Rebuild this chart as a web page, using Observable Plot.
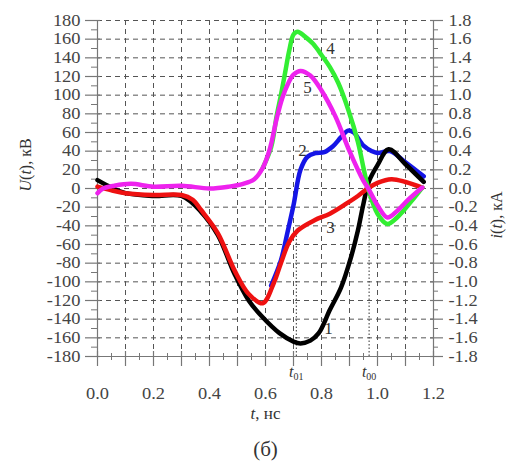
<!DOCTYPE html>
<html><head><meta charset="utf-8">
<script src="https://cdn.jsdelivr.net/npm/d3@7"></script>
<script src="https://cdn.jsdelivr.net/npm/@observablehq/plot@0.6"></script>
<style>body{margin:0;background:#fff}</style>
</head><body>
<script>
// Curve 1 (black)
const t1 = [0, 0.05, 0.1, 0.2, 0.3, 0.37, 0.43, 0.49, 0.54, 0.59, 0.65, 0.7, 0.725, 0.76, 0.79, 0.83, 0.87, 0.905, 0.93, 0.95, 0.97, 1.0, 1.04, 1.1, 1.165];
const u1 = [9, 1, -5, -8, -8, -25, -50, -92, -120, -138, -155, -164, -166, -163, -155, -130, -106, -74, -45, -16, 8, 25, 42, 26, 7];
// Curve 2 (blue)
const t2 = [0.62, 0.655, 0.68, 0.70, 0.725, 0.75, 0.78, 0.81, 0.84, 0.87, 0.895, 0.915, 0.95, 0.98, 1.0, 1.045, 1.1, 1.165];
const u2 = [-104, -77, -45, -18, 20, 34, 38, 39, 45, 55, 62, 60, 46, 40, 38, 40, 28, 13];
// Curve 3 (red)
const t3 = [0, 0.05, 0.1, 0.2, 0.3, 0.34, 0.37, 0.43, 0.49, 0.54, 0.59, 0.63, 0.655, 0.685, 0.715, 0.775, 0.83, 0.89, 0.93, 0.965, 1.0, 1.05, 1.1, 1.16];
const u3 = [2, -2, -5, -7, -7, -12, -23, -48, -88, -113, -123, -101, -80, -57, -45, -34, -27, -16, -8, 0, 6, 10, 7, 1];
// Curve 4 (green)
const t4 = [0.59, 0.62, 0.64, 0.655, 0.67, 0.685, 0.70, 0.715, 0.74, 0.77, 0.8, 0.83, 0.86, 0.895, 0.93, 0.95, 0.967, 1.0, 1.035, 1.07, 1.12, 1.16];
const u4 = [22, 44, 78, 100, 124, 148, 165, 168, 163, 155, 143, 130, 113, 85, 50, 22, 0, -27, -38, -31, -14, 1];
// Curve 5 (magenta)
const t5 = [0, 0.02, 0.06, 0.12, 0.2, 0.3, 0.4, 0.47, 0.52, 0.56, 0.59, 0.615, 0.64, 0.66, 0.68, 0.70, 0.725, 0.76, 0.8, 0.85, 0.9, 0.95, 0.967, 1.0, 1.035, 1.07, 1.11, 1.16];
const u5 = [-5, 0, 3, 5, 2, 3, 0, 2, 5, 10, 22, 42, 75, 97, 112, 122, 126, 121, 105, 77, 40, 8, 0, -18, -31, -24, -12, 1];

// curve number labels
const curveLabels = ["1", "2", "3", "4", "5"];
const curveLabelT = [0.825, 0.732, 0.832, 0.832, 0.75];
const curveLabelU = [-150, 41, -42, 150, 108];

// characteristic times
const markNames = ["t01", "t00"];
const markT = [0.71, 0.97];
const markTop = [-45, 0];

// ticks
const xMajor = d3.range(0, 13).map(d => d / 10);
const xMinor = d3.range(0, 12).map(i => (2 * i + 1) / 20);
const xLabels = [0, 0.2, 0.4, 0.6, 0.8, 1.0, 1.2];
const yMajor = d3.range(-180, 181, 20);
const yMinor = d3.range(-170, 180, 20);
const xGridVals = d3.range(1, 12).map(d => d / 10);
const yGridVals = d3.range(-160, 181, 20);

const mk = (t, u) => t.map((x, i) => ({t: x, u: u[i]}));
const series = [
  {data: mk(t2, u2), color: "#1515e6"},
  {data: mk(t1, u1), color: "#000000"},
  {data: mk(t3, u3), color: "#ee1111"},
  {data: mk(t4, u4), color: "#33ee33"},
  {data: mk(t5, u5), color: "#ee22ee"}
];
const labelRows = curveLabels.map((s, i) => ({s, t: curveLabelT[i], u: curveLabelU[i]}));
const markRows = markNames.map((s, i) => ({s, t: markT[i], top: markTop[i]}));

const axisColor = "#777";
const gridColor = "#555";
const serif = "Liberation Serif";

const plot = Plot.plot({
  width: 512, height: 472,
  marginLeft: 97, marginRight: 79, marginTop: 20, marginBottom: 116,
  style: "font-family: 'Liberation Serif', serif; font-size: 16px; background: #fff; color: #333;",
  x: {domain: [0, 1.2], label: null},
  y: {domain: [-180, 180], label: null},
  marks: [
    Plot.gridX(xGridVals, {stroke: gridColor, strokeOpacity: 1, strokeDasharray: "5,4"}),
    Plot.gridY(yGridVals, {stroke: gridColor, strokeOpacity: 1, strokeDasharray: "5,4"}),
    Plot.ruleX([0, 1.2], {stroke: axisColor, strokeWidth: 1.2}),
    Plot.ruleY([-180], {stroke: axisColor, strokeWidth: 1.2}),
    Plot.tickX(xMajor, {x: d => d, insetTop: 331, insetBottom: -10, stroke: axisColor, strokeWidth: 1.2}),
    Plot.tickX(xMinor, {x: d => d, insetTop: 333, insetBottom: -4, stroke: axisColor}),
    Plot.tickY(yMajor, {y: d => d, insetLeft: -12, insetRight: 333, stroke: axisColor, strokeWidth: 1.2}),
    Plot.tickY(yMinor, {y: d => d, insetLeft: -6, insetRight: 336, stroke: axisColor}),
    Plot.tickY(yMajor, {y: d => d, insetLeft: 333, insetRight: -10, stroke: axisColor, strokeWidth: 1.2}),
    Plot.tickY(yMinor, {y: d => d, insetLeft: 336, insetRight: -5, stroke: axisColor}),
    Plot.axisX({ticks: xLabels, tickSize: 0, tickPadding: 31, tickFormat: d => d.toFixed(1), fill: "#444", fontFamily: serif, fontSize: 16}),
    Plot.axisY({ticks: yMajor, tickSize: 0, tickPadding: 17, tickFormat: d => String(d), fill: "#444", fontFamily: serif, fontSize: 16}),
    Plot.axisY({anchor: "right", ticks: yMajor, tickSize: 0, tickPadding: 15, tickFormat: d => (d / 100).toFixed(1), fill: "#444", fontFamily: serif, fontSize: 16}),
    Plot.ruleX(markRows, {x: "t", y1: -180, y2: "top", stroke: "#333", strokeDasharray: "1.5,2", strokeWidth: 1}),
    ...series.map(s => Plot.line(s.data, {x: "t", y: "u", stroke: s.color, strokeWidth: 4.5, curve: "catmull-rom"})),
    Plot.text(labelRows, {x: "t", y: "u", text: "s", fill: "#333", fontSize: 17, fontFamily: serif}),
    Plot.text(markRows, {x: "t", y: () => -180, text: "s", dy: 15, fill: "#333", fontSize: 16, fontFamily: serif}),
    Plot.text(["U(t), кВ"], {frameAnchor: "left", dx: -72, dy: 3, rotate: -90, fill: "#333", fontSize: 16, fontFamily: serif}),
    Plot.text(["i(t), кА"], {frameAnchor: "right", dx: 63, dy: 3, rotate: -90, fill: "#333", fontSize: 16, fontFamily: serif}),
    Plot.text(["t, нс"], {frameAnchor: "bottom", dy: 62, fill: "#333", fontSize: 17, fontFamily: serif}),
    Plot.text(["(б)"], {frameAnchor: "bottom", dy: 99, fill: "#333", fontSize: 21, fontFamily: serif})
  ]
});
document.body.append(plot);

// rich text: italics and subscripts
const rich = {
  "U(t), кВ": [["U", "i"], ["("], ["t", "i"], ["), кВ"]],
  "i(t), кА": [["i", "i"], ["("], ["t", "i"], ["), кА"]],
  "t, нс": [["t", "i"], [", нс"]],
  "t01": [["t", "i"], ["01", "sub"]],
  "t00": [["t", "i"], ["00", "sub"]]
};
d3.select(plot).selectAll("text").each(function () {
  const s = this.textContent;
  if (!(s in rich)) return;
  const el = d3.select(this);
  el.text(null);
  for (const [txt, st] of rich[s]) {
    const ts = el.append("tspan").text(txt);
    if (st === "i") ts.attr("font-style", "italic");
    if (st === "sub") ts.attr("font-size", "10px").attr("dy", "3");
  }
});
// the reference's tick numerals are slightly wider than Times: stretch them horizontally
d3.select(plot).selectAll('g[aria-label$="tick label"] text').each(function () {
  const tr = this.getAttribute("transform");
  if (tr) this.setAttribute("transform", tr + " scale(1.15,1)");
});
</script>
</body></html>
